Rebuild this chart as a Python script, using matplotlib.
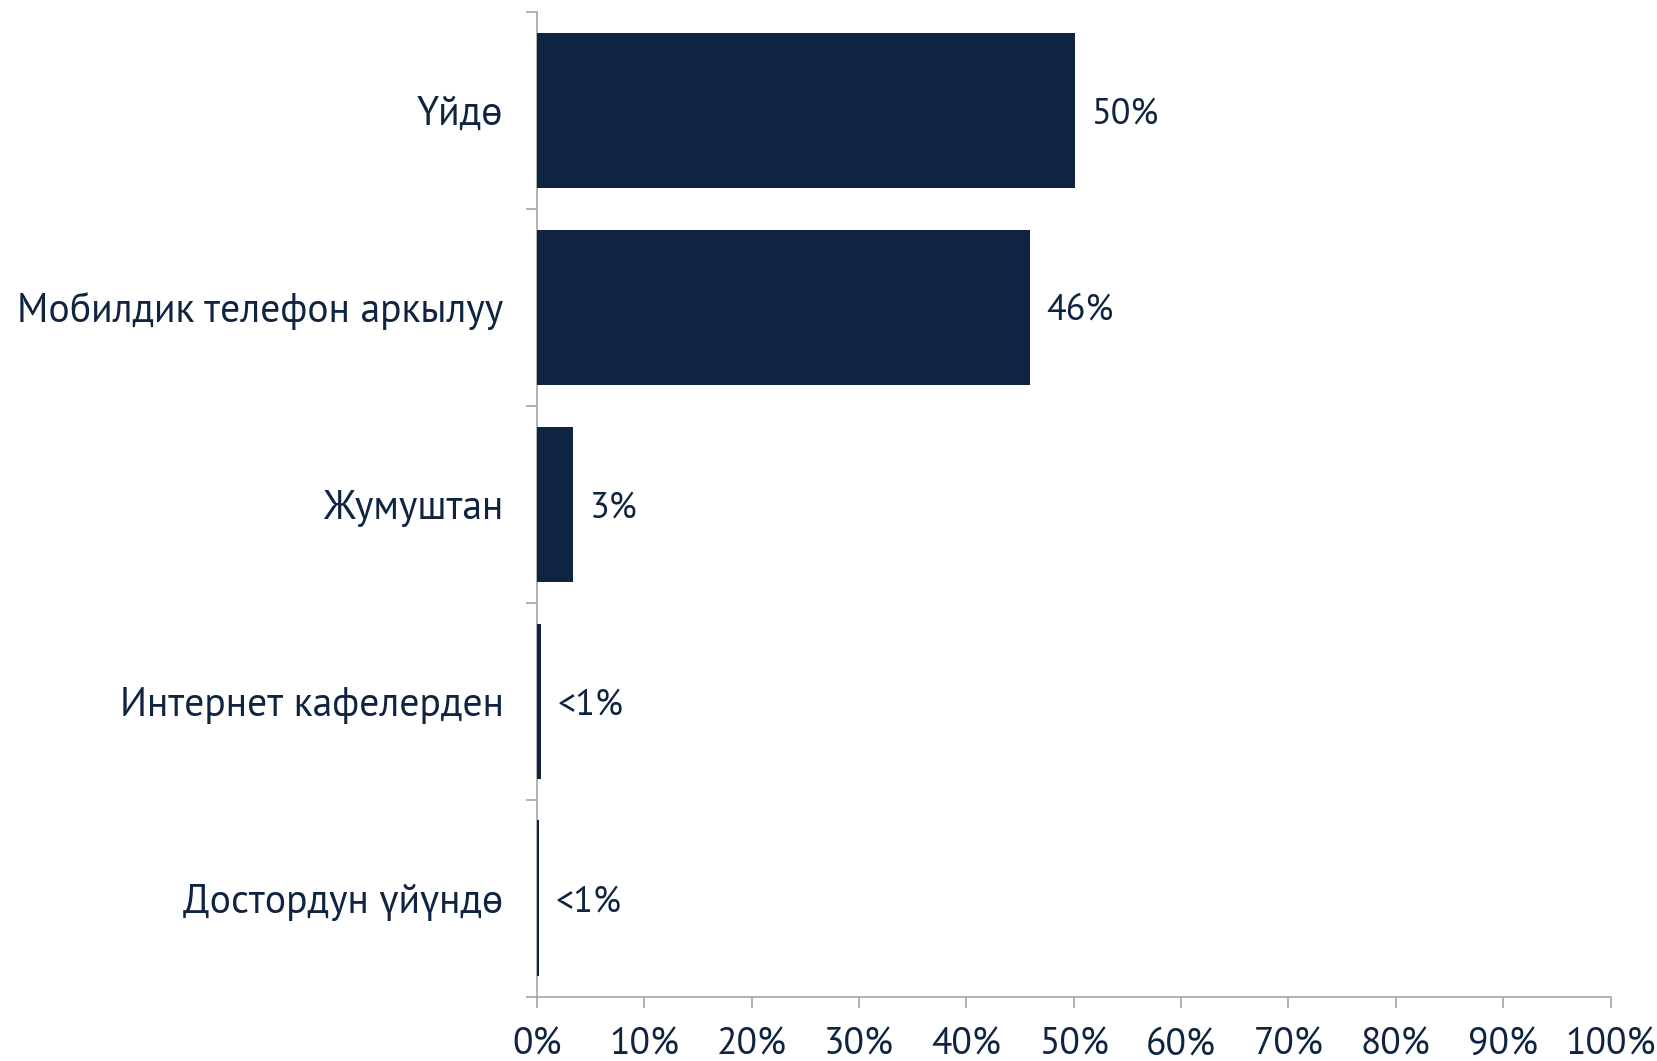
import matplotlib
matplotlib.use('Agg')
import matplotlib.pyplot as plt
from matplotlib.ticker import FixedLocator, PercentFormatter

categories = ['Үйдө', 'Мобилдик телефон аркылуу', 'Жумуштан',
              'Интернет кафелерден', 'Достордун үйүндө']
values = [50.1, 45.9, 3.4, 0.4, 0.2]
labels = ['50%', '46%', '3%', '<1%', '<1%']

navy = '#0F2440'
grey = '#A6A6A6'

plt.rcParams['font.family'] = ['PT Sans', 'DejaVu Sans']

fig = plt.figure(figsize=(16.57, 10.61), dpi=100)
ax = fig.add_axes([0.324, 0.0606, 0.648, 0.928])

pos = list(range(len(categories)))
ax.barh(pos, values, height=0.79, color=navy, zorder=3)
for p, v, lab in zip(pos, values, labels):
    ax.annotate(lab, (v, p), xytext=(12, 0), textcoords='offset points',
                va='center_baseline', ha='left', fontsize=26, color=navy)

ax.set_ylim(len(categories) - 0.5, -0.5)
ax.set_xlim(0, 100)
ax.set_yticks(pos)
ax.set_yticklabels(categories, fontsize=28.5, color=navy)
ax.tick_params(axis='y', length=0, pad=24)
ax.yaxis.set_minor_locator(FixedLocator([i - 0.5 for i in range(len(categories) + 1)]))
ax.tick_params(axis='y', which='minor', length=8, color=grey, width=1.2)

ax.set_xticks(range(0, 101, 10))
ax.xaxis.set_major_formatter(PercentFormatter(decimals=0))
ax.tick_params(axis='x', length=8, color=grey, width=1.2, labelsize=27,
               labelcolor=navy, pad=14)

for s in ['top', 'right']:
    ax.spines[s].set_visible(False)
for s in ['left', 'bottom']:
    ax.spines[s].set_color(grey)
    ax.spines[s].set_linewidth(1.2)

fig.savefig('out.png', dpi=100)
